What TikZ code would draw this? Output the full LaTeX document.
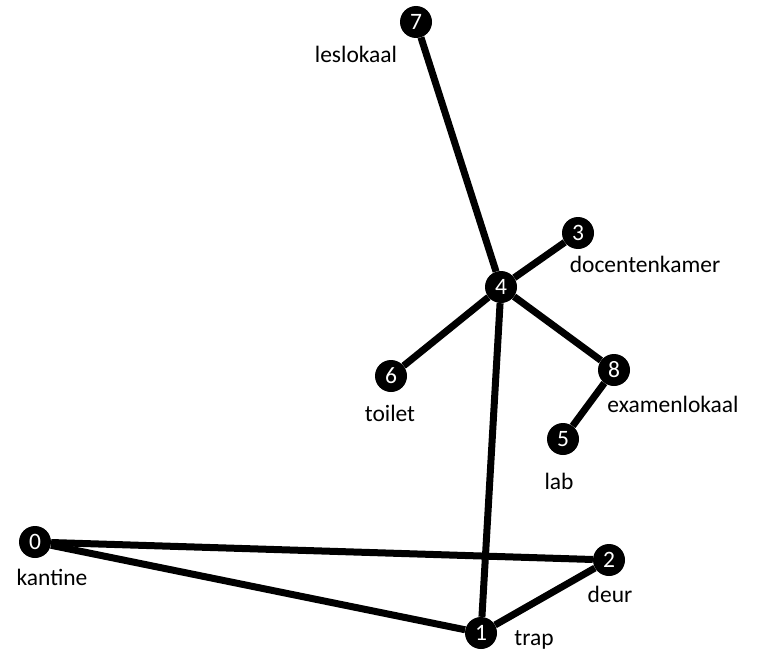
\documentclass[tikz,border=0pt]{standalone}
\usepackage{fontspec}
\setmainfont{Carlito}
\begin{document}
\begin{tikzpicture}[x=1pt,y=-1pt,
    vertex/.style={circle,fill=black,inner sep=0pt,minimum size=32pt,text=white,font=\fontsize{23.5}{28}\selectfont},
    place/.style={inner sep=0pt,font=\fontsize{23.5}{28}\selectfont},
    edge/.style={line width=7pt}]
    \useasboundingbox (0,0) rectangle (757,669);
    % rooms
    \node [vertex] (v0) at (35,542) {0};
    \node [vertex] (v1) at (481,633) {1};
    \node [vertex] (v2) at (609,560) {2};
    \node [vertex] (v3) at (578,233) {3};
    \node [vertex] (v4) at (501,287) {4};
    \node [vertex] (v5) at (563,439) {5};
    \node [vertex] (v6) at (391,376) {6};
    \node [vertex] (v7) at (416,22) {7};
    \node [vertex] (v8) at (614,370) {8};
    % names
    \node [place] (n0) at (52,577) {kantine};
    \node [place] (n1) at (534,640) {trap};
    \node [place] (n2) at (610,594) {deur};
    \node [place] (n3) at (645,264) {docentenkamer};
    \node [place] (n5) at (559,481) {lab};
    \node [place] (n6) at (390,413) {toilet};
    \node [place] (n7) at (356,54) {leslokaal};
    \node [place] (n8) at (673,404) {examenlokaal};
    % corridors
    \draw [edge] (v7)--(v4);
    \draw [edge] (v4)--(v3);
    \draw [edge] (v4)--(v6);
    \draw [edge] (v4)--(v8);
    \draw [edge] (v8)--(v5);
    \draw [edge] (v4)--(v1);
    \draw [edge] (v0)--(v2);
    \draw [edge] (v0)--(v1);
    \draw [edge] (v1)--(v2);
\end{tikzpicture}
\end{document}
